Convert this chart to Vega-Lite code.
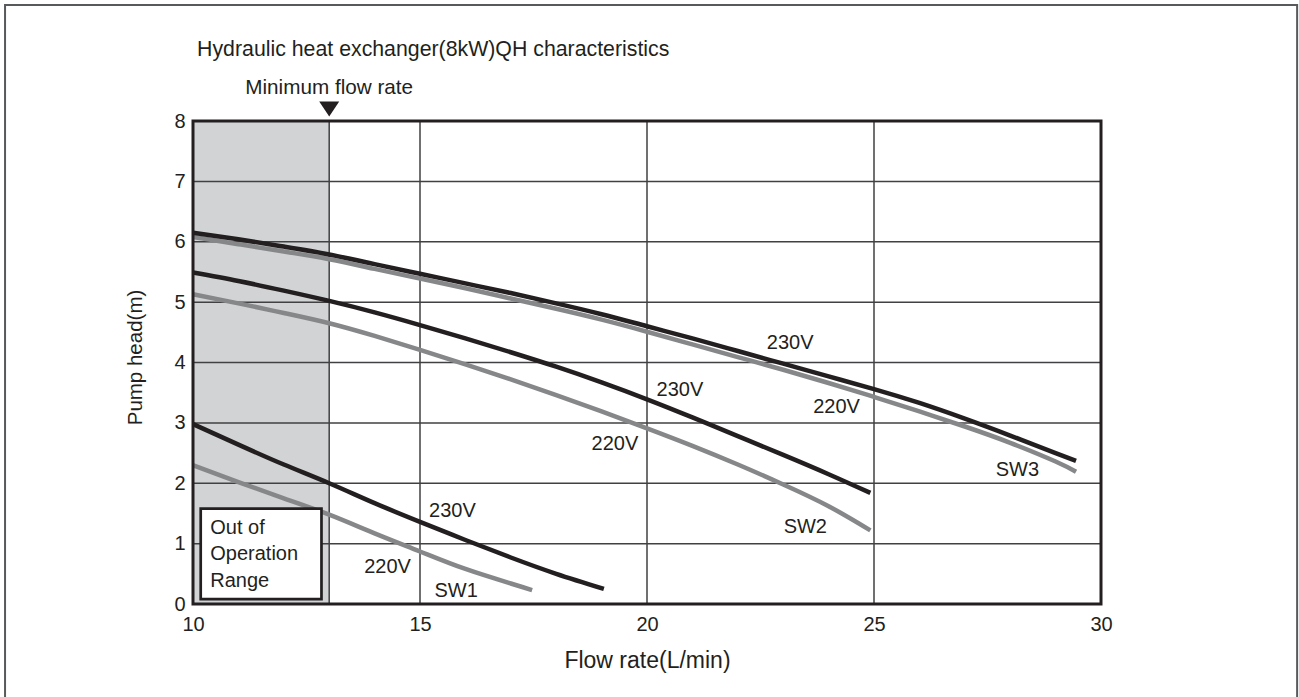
{
  "$schema": "https://vega.github.io/schema/vega-lite/v6.json",
  "width": 908,
  "height": 483,
  "autosize": {"type": "none"},
  "padding": {"left": 193, "top": 121, "right": 198, "bottom": 93},
  "background": "white",
  "config": {
    "view": {"stroke": null},
    "font": "Liberation Sans",
    "text": {"font": "Liberation Sans", "color": "#231f20"}
  },
  "datasets": {
    "curves": [
      {"curve": "SW3", "voltage": "230V", "x": 10, "y": 6.15},
      {"curve": "SW3", "voltage": "230V", "x": 11, "y": 6.04},
      {"curve": "SW3", "voltage": "230V", "x": 12, "y": 5.92},
      {"curve": "SW3", "voltage": "230V", "x": 13, "y": 5.79},
      {"curve": "SW3", "voltage": "230V", "x": 14, "y": 5.63},
      {"curve": "SW3", "voltage": "230V", "x": 15, "y": 5.47},
      {"curve": "SW3", "voltage": "230V", "x": 16, "y": 5.31},
      {"curve": "SW3", "voltage": "230V", "x": 17, "y": 5.15},
      {"curve": "SW3", "voltage": "230V", "x": 18, "y": 4.98},
      {"curve": "SW3", "voltage": "230V", "x": 19, "y": 4.8},
      {"curve": "SW3", "voltage": "230V", "x": 20, "y": 4.6},
      {"curve": "SW3", "voltage": "230V", "x": 21, "y": 4.4},
      {"curve": "SW3", "voltage": "230V", "x": 22, "y": 4.19},
      {"curve": "SW3", "voltage": "230V", "x": 23, "y": 3.98},
      {"curve": "SW3", "voltage": "230V", "x": 24, "y": 3.77},
      {"curve": "SW3", "voltage": "230V", "x": 25, "y": 3.56},
      {"curve": "SW3", "voltage": "230V", "x": 26, "y": 3.33},
      {"curve": "SW3", "voltage": "230V", "x": 27, "y": 3.07},
      {"curve": "SW3", "voltage": "230V", "x": 28, "y": 2.79},
      {"curve": "SW3", "voltage": "230V", "x": 29, "y": 2.5},
      {"curve": "SW3", "voltage": "230V", "x": 29.45, "y": 2.37},
      {"curve": "SW3", "voltage": "220V", "x": 10, "y": 6.08},
      {"curve": "SW3", "voltage": "220V", "x": 11, "y": 5.96},
      {"curve": "SW3", "voltage": "220V", "x": 12, "y": 5.84},
      {"curve": "SW3", "voltage": "220V", "x": 13, "y": 5.71},
      {"curve": "SW3", "voltage": "220V", "x": 14, "y": 5.55},
      {"curve": "SW3", "voltage": "220V", "x": 15, "y": 5.39},
      {"curve": "SW3", "voltage": "220V", "x": 16, "y": 5.23},
      {"curve": "SW3", "voltage": "220V", "x": 17, "y": 5.06},
      {"curve": "SW3", "voltage": "220V", "x": 18, "y": 4.89},
      {"curve": "SW3", "voltage": "220V", "x": 19, "y": 4.71},
      {"curve": "SW3", "voltage": "220V", "x": 20, "y": 4.51},
      {"curve": "SW3", "voltage": "220V", "x": 21, "y": 4.3},
      {"curve": "SW3", "voltage": "220V", "x": 22, "y": 4.09},
      {"curve": "SW3", "voltage": "220V", "x": 23, "y": 3.88},
      {"curve": "SW3", "voltage": "220V", "x": 24, "y": 3.66},
      {"curve": "SW3", "voltage": "220V", "x": 25, "y": 3.43},
      {"curve": "SW3", "voltage": "220V", "x": 26, "y": 3.19},
      {"curve": "SW3", "voltage": "220V", "x": 27, "y": 2.94},
      {"curve": "SW3", "voltage": "220V", "x": 28, "y": 2.67},
      {"curve": "SW3", "voltage": "220V", "x": 29, "y": 2.36},
      {"curve": "SW3", "voltage": "220V", "x": 29.45, "y": 2.19},
      {"curve": "SW2", "voltage": "230V", "x": 10, "y": 5.49},
      {"curve": "SW2", "voltage": "230V", "x": 11, "y": 5.35},
      {"curve": "SW2", "voltage": "230V", "x": 12, "y": 5.19},
      {"curve": "SW2", "voltage": "230V", "x": 13, "y": 5.02},
      {"curve": "SW2", "voltage": "230V", "x": 14, "y": 4.83},
      {"curve": "SW2", "voltage": "230V", "x": 15, "y": 4.62},
      {"curve": "SW2", "voltage": "230V", "x": 16, "y": 4.4},
      {"curve": "SW2", "voltage": "230V", "x": 17, "y": 4.17},
      {"curve": "SW2", "voltage": "230V", "x": 18, "y": 3.93},
      {"curve": "SW2", "voltage": "230V", "x": 19, "y": 3.67},
      {"curve": "SW2", "voltage": "230V", "x": 20, "y": 3.39},
      {"curve": "SW2", "voltage": "230V", "x": 21, "y": 3.09},
      {"curve": "SW2", "voltage": "230V", "x": 22, "y": 2.78},
      {"curve": "SW2", "voltage": "230V", "x": 23, "y": 2.47},
      {"curve": "SW2", "voltage": "230V", "x": 24, "y": 2.15},
      {"curve": "SW2", "voltage": "230V", "x": 24.92, "y": 1.84},
      {"curve": "SW2", "voltage": "220V", "x": 10, "y": 5.13},
      {"curve": "SW2", "voltage": "220V", "x": 11, "y": 4.98},
      {"curve": "SW2", "voltage": "220V", "x": 12, "y": 4.82},
      {"curve": "SW2", "voltage": "220V", "x": 13, "y": 4.65},
      {"curve": "SW2", "voltage": "220V", "x": 14, "y": 4.44},
      {"curve": "SW2", "voltage": "220V", "x": 15, "y": 4.21},
      {"curve": "SW2", "voltage": "220V", "x": 16, "y": 3.97},
      {"curve": "SW2", "voltage": "220V", "x": 17, "y": 3.72},
      {"curve": "SW2", "voltage": "220V", "x": 18, "y": 3.46},
      {"curve": "SW2", "voltage": "220V", "x": 19, "y": 3.19},
      {"curve": "SW2", "voltage": "220V", "x": 20, "y": 2.91},
      {"curve": "SW2", "voltage": "220V", "x": 21, "y": 2.62},
      {"curve": "SW2", "voltage": "220V", "x": 22, "y": 2.31},
      {"curve": "SW2", "voltage": "220V", "x": 23, "y": 1.98},
      {"curve": "SW2", "voltage": "220V", "x": 24, "y": 1.62},
      {"curve": "SW2", "voltage": "220V", "x": 24.92, "y": 1.22},
      {"curve": "SW1", "voltage": "230V", "x": 10, "y": 2.98},
      {"curve": "SW1", "voltage": "230V", "x": 11, "y": 2.64},
      {"curve": "SW1", "voltage": "230V", "x": 12, "y": 2.31},
      {"curve": "SW1", "voltage": "230V", "x": 13, "y": 2.0},
      {"curve": "SW1", "voltage": "230V", "x": 14, "y": 1.67},
      {"curve": "SW1", "voltage": "230V", "x": 15, "y": 1.36},
      {"curve": "SW1", "voltage": "230V", "x": 16, "y": 1.06},
      {"curve": "SW1", "voltage": "230V", "x": 17, "y": 0.77},
      {"curve": "SW1", "voltage": "230V", "x": 18, "y": 0.5},
      {"curve": "SW1", "voltage": "230V", "x": 19.05, "y": 0.25},
      {"curve": "SW1", "voltage": "220V", "x": 10, "y": 2.3},
      {"curve": "SW1", "voltage": "220V", "x": 11, "y": 2.02},
      {"curve": "SW1", "voltage": "220V", "x": 12, "y": 1.75},
      {"curve": "SW1", "voltage": "220V", "x": 13, "y": 1.48},
      {"curve": "SW1", "voltage": "220V", "x": 14, "y": 1.17},
      {"curve": "SW1", "voltage": "220V", "x": 15, "y": 0.87},
      {"curve": "SW1", "voltage": "220V", "x": 16, "y": 0.58},
      {"curve": "SW1", "voltage": "220V", "x": 17, "y": 0.34},
      {"curve": "SW1", "voltage": "220V", "x": 17.47, "y": 0.23}
    ],
    "labels": [
      {"text": "230V", "x": 22.64, "y": 4.33},
      {"text": "220V", "x": 23.66, "y": 3.27},
      {"text": "SW3", "x": 27.68, "y": 2.22},
      {"text": "230V", "x": 20.21, "y": 3.55},
      {"text": "220V", "x": 18.78, "y": 2.65},
      {"text": "SW2", "x": 23.01, "y": 1.27},
      {"text": "230V", "x": 15.2, "y": 1.54},
      {"text": "220V", "x": 13.77, "y": 0.62},
      {"text": "SW1", "x": 15.32, "y": 0.22},
      {"text": "Out of", "x": 10.38, "y": 1.26},
      {"text": "Operation", "x": 10.38, "y": 0.825},
      {"text": "Range", "x": 10.38, "y": 0.377}
    ],
    "vgrid": [{"x": 13}, {"x": 15}, {"x": 20}, {"x": 25}],
    "hgrid": [{"y": 1}, {"y": 2}, {"y": 3}, {"y": 4}, {"y": 5}, {"y": 6}, {"y": 7}],
    "title": [
      {"text": "Hydraulic heat exchanger(8kW)QH characteristics", "x": 10.09, "y": 9.18}
    ],
    "note": [
      {"text": "Minimum flow rate", "x": 13, "y": 8.55}
    ],
    "marker": [{"x": 13, "y": 8.2}]
  },
  "layer": [
    {
      "data": {"name": "marker"},
      "mark": {"type": "rect", "filled": false, "stroke": "#58595b", "strokeWidth": 2},
      "encoding": {
        "x": {"datum": 5.86, "type": "quantitative"},
        "x2": {"datum": 34.32},
        "y": {"datum": 9.92, "type": "quantitative"},
        "y2": {"datum": -1.7}
      }
    },
    {
      "data": {"name": "marker"},
      "mark": {"type": "rect", "fill": "#d1d3d4", "strokeWidth": 0},
      "encoding": {
        "x": {"datum": 10, "type": "quantitative"},
        "x2": {"datum": 13},
        "y": {"datum": 0, "type": "quantitative"},
        "y2": {"datum": 8}
      }
    },
    {
      "data": {"name": "vgrid"},
      "mark": {"type": "rule", "color": "#414042", "strokeWidth": 1.5},
      "encoding": {
        "x": {"field": "x", "type": "quantitative"},
        "y": {"datum": 0, "type": "quantitative"},
        "y2": {"datum": 8}
      }
    },
    {
      "data": {"name": "hgrid"},
      "mark": {"type": "rule", "color": "#414042", "strokeWidth": 1.5},
      "encoding": {
        "y": {"field": "y", "type": "quantitative"},
        "x": {"datum": 10, "type": "quantitative"},
        "x2": {"datum": 30}
      }
    },
    {
      "data": {"name": "curves"},
      "transform": [{"filter": "datum.voltage === '220V'"}],
      "mark": {"type": "line", "color": "#868789", "strokeWidth": 4.5, "interpolate": "natural"},
      "encoding": {
        "x": {
          "field": "x", "type": "quantitative",
          "scale": {"domain": [10, 30], "nice": false, "zero": false},
          "axis": {
            "title": "Flow rate(L/min)", "values": [10, 15, 20, 25, 30], "format": "d",
            "grid": false, "domain": false, "ticks": false, "tickSize": 0,
            "labelFontSize": 20, "labelPadding": 10, "labelColor": "#231f20",
            "labelFlush": false, "labelOverlap": false,
            "titleFontSize": 23, "titleFontWeight": "normal", "titleColor": "#231f20", "titlePadding": 15
          }
        },
        "y": {
          "field": "y", "type": "quantitative",
          "scale": {"domain": [0, 8], "nice": false, "zero": true},
          "axis": {
            "title": "Pump head(m)", "values": [0, 1, 2, 3, 4, 5, 6, 7, 8], "format": "d",
            "grid": false, "domain": false, "ticks": false, "tickSize": 0,
            "labelFontSize": 20, "labelPadding": 8, "labelColor": "#231f20",
            "labelFlush": false, "labelOverlap": false,
            "titleFontSize": 20.5, "titleFontWeight": "normal", "titleColor": "#231f20", "titlePadding": 28,
            "titleY": 236
          }
        },
        "detail": {"field": "curve"}
      }
    },
    {
      "data": {"name": "curves"},
      "transform": [{"filter": "datum.voltage === '230V'"}],
      "mark": {"type": "line", "color": "#231f20", "strokeWidth": 4.5, "interpolate": "natural"},
      "encoding": {
        "x": {"field": "x", "type": "quantitative"},
        "y": {"field": "y", "type": "quantitative"},
        "detail": {"field": "curve"}
      }
    },
    {
      "data": {"name": "marker"},
      "mark": {"type": "rect", "fill": "white", "stroke": "#231f20", "strokeWidth": 2.7},
      "encoding": {
        "x": {"datum": 10.17, "type": "quantitative"},
        "x2": {"datum": 12.83},
        "y": {"datum": 0.08, "type": "quantitative"},
        "y2": {"datum": 1.58}
      }
    },
    {
      "data": {"name": "labels"},
      "mark": {"type": "text", "align": "left", "baseline": "middle", "fontSize": 20},
      "encoding": {
        "x": {"field": "x", "type": "quantitative"},
        "y": {"field": "y", "type": "quantitative"},
        "text": {"field": "text"}
      }
    },
    {
      "data": {"name": "title"},
      "mark": {"type": "text", "align": "left", "baseline": "middle", "fontSize": 21.3},
      "encoding": {
        "x": {"field": "x", "type": "quantitative"},
        "y": {"field": "y", "type": "quantitative"},
        "text": {"field": "text"}
      }
    },
    {
      "data": {"name": "note"},
      "mark": {"type": "text", "align": "center", "baseline": "middle", "fontSize": 20.7},
      "encoding": {
        "x": {"field": "x", "type": "quantitative"},
        "y": {"field": "y", "type": "quantitative"},
        "text": {"field": "text"}
      }
    },
    {
      "data": {"name": "marker"},
      "mark": {"type": "point", "filled": true, "color": "#231f20", "opacity": 1, "shape": "M-1,-0.75L1,-0.75L0,0.75Z", "size": 400, "strokeWidth": 0},
      "encoding": {
        "x": {"field": "x", "type": "quantitative"},
        "y": {"field": "y", "type": "quantitative"}
      }
    },
    {
      "data": {"name": "marker"},
      "mark": {"type": "rect", "filled": false, "stroke": "#231f20", "strokeWidth": 3},
      "encoding": {
        "x": {"datum": 10, "type": "quantitative"},
        "x2": {"datum": 30},
        "y": {"datum": 0, "type": "quantitative"},
        "y2": {"datum": 8}
      }
    }
  ]
}
